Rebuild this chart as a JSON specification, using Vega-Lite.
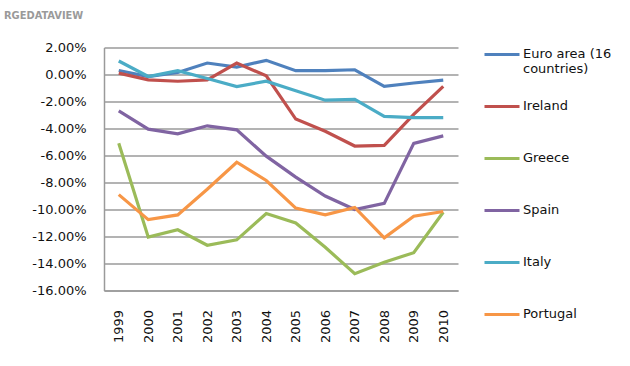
{
  "$schema": "https://vega.github.io/schema/vega-lite/v6.json",
  "autosize": {"type": "none"},
  "padding": {"left": 104, "top": 47.5, "right": 172, "bottom": 75.3},
  "width": 354,
  "height": 243,
  "background": "white",
  "title": {
    "text": "RGEDATAVIEW",
    "anchor": "start",
    "frame": "group",
    "dx": -100,
    "offset": 14,
    "font": "DejaVu Sans Condensed",
    "fontSize": 11,
    "fontWeight": "bold",
    "color": "#9a9a9a"
  },
  "config": {
    "view": {"stroke": null},
    "font": "DejaVu Sans"
  },
  "data": {
    "values": [
      {"year": "1999", "country": "Euro area (16 countries)", "value": 0.3},
      {"year": "2000", "country": "Euro area (16 countries)", "value": -0.15},
      {"year": "2001", "country": "Euro area (16 countries)", "value": 0.15},
      {"year": "2002", "country": "Euro area (16 countries)", "value": 0.85},
      {"year": "2003", "country": "Euro area (16 countries)", "value": 0.55},
      {"year": "2004", "country": "Euro area (16 countries)", "value": 1.05},
      {"year": "2005", "country": "Euro area (16 countries)", "value": 0.28},
      {"year": "2006", "country": "Euro area (16 countries)", "value": 0.28},
      {"year": "2007", "country": "Euro area (16 countries)", "value": 0.35},
      {"year": "2008", "country": "Euro area (16 countries)", "value": -0.88},
      {"year": "2009", "country": "Euro area (16 countries)", "value": -0.63},
      {"year": "2010", "country": "Euro area (16 countries)", "value": -0.41},
      {"year": "1999", "country": "Ireland", "value": 0.1},
      {"year": "2000", "country": "Ireland", "value": -0.4},
      {"year": "2001", "country": "Ireland", "value": -0.5},
      {"year": "2002", "country": "Ireland", "value": -0.4},
      {"year": "2003", "country": "Ireland", "value": 0.85},
      {"year": "2004", "country": "Ireland", "value": -0.1},
      {"year": "2005", "country": "Ireland", "value": -3.3},
      {"year": "2006", "country": "Ireland", "value": -4.2},
      {"year": "2007", "country": "Ireland", "value": -5.3},
      {"year": "2008", "country": "Ireland", "value": -5.25},
      {"year": "2009", "country": "Ireland", "value": -2.95},
      {"year": "2010", "country": "Ireland", "value": -0.88},
      {"year": "1999", "country": "Greece", "value": -5.1},
      {"year": "2000", "country": "Greece", "value": -12.05},
      {"year": "2001", "country": "Greece", "value": -11.5},
      {"year": "2002", "country": "Greece", "value": -12.65},
      {"year": "2003", "country": "Greece", "value": -12.25},
      {"year": "2004", "country": "Greece", "value": -10.3},
      {"year": "2005", "country": "Greece", "value": -11.0},
      {"year": "2006", "country": "Greece", "value": -12.8},
      {"year": "2007", "country": "Greece", "value": -14.75},
      {"year": "2008", "country": "Greece", "value": -13.9},
      {"year": "2009", "country": "Greece", "value": -13.2},
      {"year": "2010", "country": "Greece", "value": -10.2},
      {"year": "1999", "country": "Spain", "value": -2.7},
      {"year": "2000", "country": "Spain", "value": -4.05},
      {"year": "2001", "country": "Spain", "value": -4.4},
      {"year": "2002", "country": "Spain", "value": -3.8},
      {"year": "2003", "country": "Spain", "value": -4.1},
      {"year": "2004", "country": "Spain", "value": -6.05},
      {"year": "2005", "country": "Spain", "value": -7.6},
      {"year": "2006", "country": "Spain", "value": -9.0},
      {"year": "2007", "country": "Spain", "value": -10.0},
      {"year": "2008", "country": "Spain", "value": -9.55},
      {"year": "2009", "country": "Spain", "value": -5.1},
      {"year": "2010", "country": "Spain", "value": -4.55},
      {"year": "1999", "country": "Italy", "value": 1.0},
      {"year": "2000", "country": "Italy", "value": -0.15},
      {"year": "2001", "country": "Italy", "value": 0.28},
      {"year": "2002", "country": "Italy", "value": -0.3},
      {"year": "2003", "country": "Italy", "value": -0.9},
      {"year": "2004", "country": "Italy", "value": -0.5},
      {"year": "2005", "country": "Italy", "value": -1.2},
      {"year": "2006", "country": "Italy", "value": -1.9},
      {"year": "2007", "country": "Italy", "value": -1.85},
      {"year": "2008", "country": "Italy", "value": -3.1},
      {"year": "2009", "country": "Italy", "value": -3.2},
      {"year": "2010", "country": "Italy", "value": -3.2},
      {"year": "1999", "country": "Portugal", "value": -8.9},
      {"year": "2000", "country": "Portugal", "value": -10.75},
      {"year": "2001", "country": "Portugal", "value": -10.4},
      {"year": "2002", "country": "Portugal", "value": -8.5},
      {"year": "2003", "country": "Portugal", "value": -6.5},
      {"year": "2004", "country": "Portugal", "value": -7.85},
      {"year": "2005", "country": "Portugal", "value": -9.9},
      {"year": "2006", "country": "Portugal", "value": -10.4},
      {"year": "2007", "country": "Portugal", "value": -9.85},
      {"year": "2008", "country": "Portugal", "value": -12.1},
      {"year": "2009", "country": "Portugal", "value": -10.5},
      {"year": "2010", "country": "Portugal", "value": -10.15}
    ]
  },
  "mark": {"type": "line", "strokeWidth": 3.2},
  "encoding": {
    "x": {
      "field": "year",
      "type": "ordinal",
      "scale": {"type": "point", "padding": 0.5},
      "axis": {
        "title": null,
        "labelAngle": -90,
        "labelAlign": "right",
        "labelBaseline": "middle",
        "labelPadding": 19,
        "labelFontSize": 13,
        "labelColor": "#111",
        "ticks": false,
        "domainColor": "#9a9a9a",
        "domainWidth": 1.5,
        "grid": false
      }
    },
    "y": {
      "field": "value",
      "type": "quantitative",
      "scale": {"domain": [-16, 2], "nice": false, "zero": false},
      "axis": {
        "title": null,
        "values": [-16, -14, -12, -10, -8, -6, -4, -2, 0, 2],
        "labelExpr": "replace(format(datum.value, '.2f'), '\u2212', '-') + '%'",
        "labelFontSize": 13,
        "labelColor": "#111",
        "labelPadding": 18,
        "ticks": false,
        "domainColor": "#9a9a9a",
        "domainWidth": 1.5,
        "grid": true,
        "gridColor": "#9a9a9a",
        "gridWidth": 1.5
      }
    },
    "color": {
      "field": "country",
      "type": "nominal",
      "sort": null,
      "scale": {
        "domain": ["Euro area (16 countries)", "Ireland", "Greece", "Spain", "Italy", "Portugal"],
        "range": ["#4F81BD", "#C0504D", "#9BBB59", "#8064A2", "#4BACC6", "#F79646"]
      },
      "legend": {
        "title": null,
        "orient": "none",
        "legendX": 379,
        "legendY": -12,
        "symbolType": "stroke",
        "symbolSize": 1225,
        "symbolStrokeWidth": 3,
        "labelFontSize": 13,
        "labelColor": "#111",
        "labelOffset": 2,
        "rowPadding": 11,
        "labelExpr": "datum.label == 'Euro area (16 countries)' ? ['Euro area (16', 'countries)'] : [datum.label, ' ']"
      }
    }
  }
}
